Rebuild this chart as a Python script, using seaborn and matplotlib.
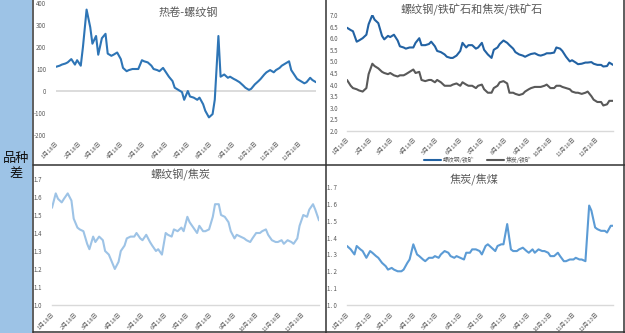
import pandas as pd
import matplotlib
matplotlib.use("Agg")
import matplotlib.pyplot as plt
from matplotlib.lines import Line2D
from matplotlib.patches import Rectangle
import seaborn as sns

# ---- series (one value every third trading day) ----
hc_rb_spread = [110, 115, 120, 125, 130, 145, 120, 140, 115, 200,
                370, 290, 215, 250, 165, 240, 260, 170, 160, 165,
                175, 145, 105, 90, 95, 100, 100, 100, 140, 135,
                130, 115, 100, 95, 90, 105, 80, 65, 45, 15,
                5, -5, -40, 0, -25, -30, -40, -30, -60, -90,
                -120, -105, -40, 250, 65, 75, 60, 65, 55, 50,
                40, 25, 15, 5, 10, 30, 45, 55, 75, 85,
                95, 85, 95, 105, 115, 125, 135, 95, 70, 55,
                45, 35, 40, 60, 50, 40]

rb_ore_ratio = [6.45, 6.35, 6.30, 5.85, 5.90, 6.00, 6.15, 6.60, 7.00, 6.80,
                6.65, 6.10, 5.95, 6.10, 6.05, 6.15, 5.90, 5.65, 5.60, 5.55,
                5.60, 5.60, 5.80, 6.00, 5.70, 5.70, 5.75, 5.85, 5.65, 5.45,
                5.40, 5.30, 5.20, 5.15, 5.15, 5.25, 5.45, 5.80, 5.60, 5.70,
                5.70, 5.55, 5.60, 5.80, 5.50, 5.30, 5.15, 5.50, 5.60, 5.75,
                5.90, 5.80, 5.70, 5.55, 5.40, 5.30, 5.25, 5.20, 5.28, 5.32,
                5.35, 5.27, 5.25, 5.30, 5.35, 5.35, 5.38, 5.60, 5.55, 5.45,
                5.20, 5.00, 5.05, 4.95, 4.88, 4.90, 4.95, 4.95, 4.97, 4.90,
                4.85, 4.85, 4.78, 4.80, 4.95, 4.85]

coke_ore_ratio = [4.20, 3.95, 3.85, 3.80, 3.75, 3.70, 3.85, 4.45, 4.90, 4.80,
                  4.70, 4.55, 4.50, 4.45, 4.50, 4.40, 4.35, 4.40, 4.40, 4.45,
                  4.55, 4.65, 4.50, 4.55, 4.20, 4.15, 4.20, 4.20, 4.10, 4.20,
                  4.10, 3.95, 3.95, 3.95, 4.00, 4.05, 3.95, 4.10, 4.00, 3.95,
                  3.95, 3.85, 3.95, 4.00, 3.80, 3.65, 3.65, 3.85, 3.95, 4.10,
                  4.15, 4.05, 3.65, 3.65, 3.60, 3.55, 3.60, 3.70, 3.80, 3.85,
                  3.90, 3.90, 3.90, 3.95, 4.00, 3.85, 3.85, 3.95, 3.95, 3.90,
                  3.85, 3.80, 3.70, 3.65, 3.65, 3.60, 3.65, 3.70, 3.50, 3.35,
                  3.25, 3.25, 3.10, 3.15, 3.30, 3.30]

rb_coke_ratio = [1.54, 1.62, 1.59, 1.57, 1.59, 1.62, 1.58, 1.48, 1.43, 1.42,
                 1.41, 1.34, 1.31, 1.38, 1.35, 1.38, 1.36, 1.30, 1.28, 1.25,
                 1.20, 1.24, 1.30, 1.33, 1.37, 1.38, 1.38, 1.40, 1.37, 1.36,
                 1.39, 1.35, 1.33, 1.30, 1.31, 1.28, 1.40, 1.39, 1.38, 1.42,
                 1.41, 1.43, 1.41, 1.49, 1.46, 1.43, 1.40, 1.44, 1.41, 1.41,
                 1.42, 1.49, 1.56, 1.56, 1.50, 1.49, 1.46, 1.41, 1.37, 1.39,
                 1.38, 1.37, 1.36, 1.35, 1.37, 1.40, 1.40, 1.41, 1.42, 1.39,
                 1.36, 1.35, 1.35, 1.36, 1.34, 1.36, 1.35, 1.34, 1.37, 1.44,
                 1.50, 1.49, 1.53, 1.56, 1.53, 1.47]

coke_coal_ratio = [1.35, 1.33, 1.30, 1.35, 1.33, 1.32, 1.28, 1.32, 1.31, 1.29,
                   1.28, 1.25, 1.23, 1.21, 1.22, 1.21, 1.20, 1.20, 1.21, 1.25,
                   1.27, 1.36, 1.30, 1.29, 1.27, 1.26, 1.28, 1.28, 1.29, 1.28,
                   1.30, 1.32, 1.31, 1.29, 1.28, 1.29, 1.28, 1.27, 1.31, 1.31,
                   1.33, 1.33, 1.32, 1.30, 1.35, 1.36, 1.34, 1.32, 1.35, 1.36,
                   1.36, 1.48, 1.33, 1.32, 1.32, 1.33, 1.34, 1.32, 1.31, 1.33,
                   1.31, 1.33, 1.32, 1.32, 1.31, 1.29, 1.29, 1.31, 1.29, 1.26,
                   1.26, 1.27, 1.27, 1.28, 1.27, 1.27, 1.26, 1.59, 1.56, 1.46,
                   1.45, 1.44, 1.44, 1.43, 1.47, 1.47]

months = list(range(1, 13))
labels_18 = [f"{m}月18日" for m in months]
labels_13 = [f"{m}月13日" for m in months]

yticks_spread = [-200, -100, 0, 100, 200, 300, 400]
yticks_ore = [2.0, 2.5, 3.0, 3.5, 4.0, 4.5, 5.0, 5.5, 6.0, 6.5, 7.0]
yticks_ratio = [1.0, 1.1, 1.2, 1.3, 1.4, 1.5, 1.6, 1.7]
ylabels_ratio_spaced = ["1. 0", "1. 1", "1. 2", "1. 3", "1. 4", "1. 5", "1. 6", "1. 7"]

titles = ["热卷-螺纹钢", "螺纹钢/铁矿石和焦炭/铁矿石", "螺纹钢/焦炭", "焦炭/焦煤"]
legend_names = ["螺纹钢/铁矿", "焦炭/铁矿"]
side_label = "品种\n差"

# ---- style ----
sns.set_style("white")
plt.rcParams["font.family"] = ["Noto Sans CJK SC", "DejaVu Sans"]
plt.rcParams["axes.unicode_minus"] = False

TXT = "#595959"
AXLINE = "#D9D9D9"

dates_18 = pd.date_range("2017-01-18", periods=len(hc_rb_spread), freq="3B")
dates_13 = pd.date_range("2017-01-13", periods=len(coke_coal_ratio), freq="3B")
ticks_18 = [pd.Timestamp(2017, m, 18) for m in months]
ticks_13 = [pd.Timestamp(2017, m, 13) for m in months]

W, H = 625, 333
fig = plt.figure(figsize=(W / 100, H / 100), dpi=100)
fig.patch.set_facecolor("white")


def fx(px):
    return px / W


def fy(py):
    return 1 - py / H


def axes_px(x0, x1, ytop, ybot):
    return fig.add_axes([fx(x0), fy(ybot), fx(x1 - x0), (ybot - ytop) / H])


def style_axes(ax, dates, ticks, tick_labels, ylim, yticks, ylabels, ypad, xpad, show_base=True):
    ax.set_facecolor("none")
    for s in ax.spines.values():
        s.set_visible(False)
    if show_base:
        ax.spines["bottom"].set_visible(True)
        ax.spines["bottom"].set_color(AXLINE)
        ax.spines["bottom"].set_linewidth(1.0)
    ax.set_xlim(dates[0], dates[-1])
    ax.set_ylim(*ylim)
    ax.set_xticks(ticks)
    ax.set_xticklabels(tick_labels, rotation=45, ha="right", rotation_mode="anchor",
                       fontsize=4.2, color=TXT)
    ax.set_yticks(yticks)
    ax.set_yticklabels(ylabels, fontsize=4.4, color=TXT)
    ax.tick_params(axis="y", length=0, pad=ypad)
    ax.tick_params(axis="x", length=2 if show_base else 0, width=0.6, color=AXLINE,
                   direction="out", pad=xpad)
    ax.set_xlabel("")
    ax.set_ylabel("")
    ax.grid(False)


# ---- top-left: hot-rolled coil minus rebar ----
ax1 = axes_px(56, 316, 3, 135)
ax1.axhline(0, color=AXLINE, lw=1.3, zorder=1)
sns.lineplot(x=dates_18, y=hc_rb_spread, ax=ax1, color="#2E75B6", linewidth=1.5, zorder=3)
style_axes(ax1, dates_18, ticks_18, labels_18, (-200, 400), yticks_spread,
           [str(v) for v in yticks_spread], 7, 4, show_base=False)

# ---- top-right: rebar/ore and coke/ore ----
ax2 = axes_px(347, 613, 15, 131)
sns.lineplot(x=dates_18, y=rb_ore_ratio, ax=ax2, color="#2262A3", linewidth=1.5,
             label=legend_names[0], zorder=3)
sns.lineplot(x=dates_18, y=coke_ore_ratio, ax=ax2, color="#595959", linewidth=1.5,
             label=legend_names[1], zorder=3)
style_axes(ax2, dates_18, ticks_18, labels_18, (2.0, 7.0), yticks_ore,
           [f"{v:.1f}" for v in yticks_ore], 6, 2)
ax2.legend(loc="center", bbox_to_anchor=(fx(478), fy(160)), bbox_transform=fig.transFigure,
           ncol=2, frameon=False, fontsize=4.2, handlelength=2.8, columnspacing=2.2,
           handletextpad=0.4, labelcolor=TXT, borderpad=0)

# ---- bottom-left: rebar/coke ----
ax3 = axes_px(52, 319, 179, 305)
sns.lineplot(x=dates_18, y=rb_coke_ratio, ax=ax3, color="#9DC3E6", linewidth=1.5, zorder=3)
style_axes(ax3, dates_18, ticks_18, labels_18, (1.0, 1.7), yticks_ratio,
           [f"{v:.1f}" for v in yticks_ratio], 7, 3)

# ---- bottom-right: coke/coking coal ----
ax4 = axes_px(347, 613, 187, 305)
sns.lineplot(x=dates_13, y=coke_coal_ratio, ax=ax4, color="#5B9BD5", linewidth=1.5, zorder=3)
style_axes(ax4, dates_13, ticks_13, labels_13, (1.0, 1.7), yticks_ratio,
           ylabels_ratio_spaced, 7, 3)

# ---- panel titles ----
title_pos = [(188, 13), (472, 10), (180, 175), (474, 179)]
for t, (px, py) in zip(titles, title_pos):
    fig.text(fx(px), fy(py), t, ha="center", va="center", fontsize=8, color=TXT)

# ---- side band and frame ----
fig.add_artist(Rectangle((0, 0), fx(32), 1, transform=fig.transFigure,
                         facecolor="#9DC3E6", edgecolor="none", zorder=0))
fig.text(fx(16), fy(166), side_label, ha="center", va="center", fontsize=9.5,
         color="#111111", linespacing=1.15)

frame_kw = dict(transform=fig.transFigure, color="#333333", lw=1.1, zorder=10)
fig.add_artist(Line2D([fx(32.5), fx(32.5)], [0, 1], **frame_kw))
fig.add_artist(Line2D([fx(326), fx(326)], [0, 1], **frame_kw))
fig.add_artist(Line2D([fx(623.5), fx(623.5)], [0, 1], **frame_kw))
fig.add_artist(Line2D([fx(32.5), 1], [fy(165.5), fy(165.5)], **frame_kw))
fig.add_artist(Line2D([fx(32.5), 1], [fy(332), fy(332)], **frame_kw))

fig.savefig("out.png", dpi=100)
